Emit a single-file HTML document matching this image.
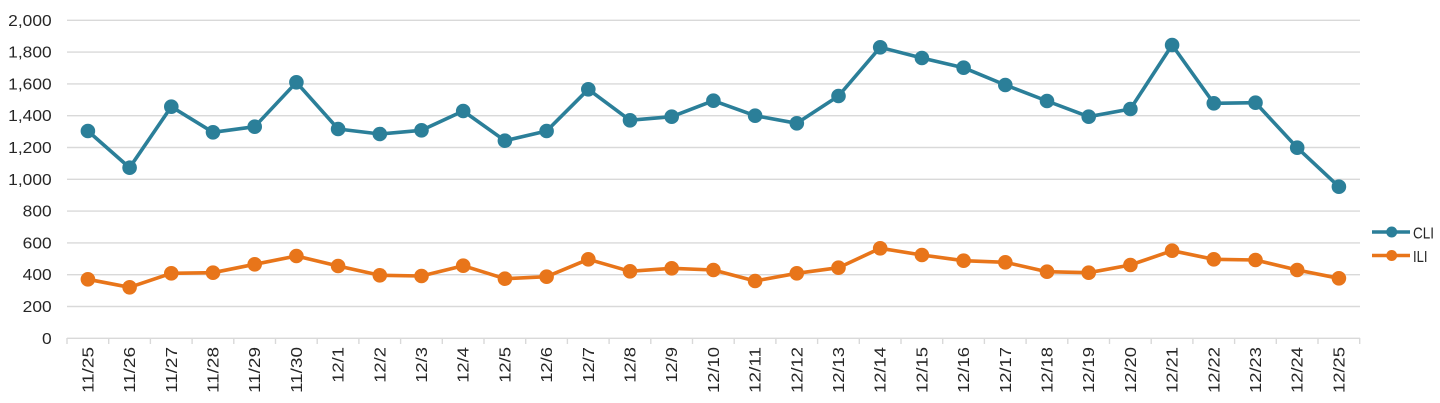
<!DOCTYPE html>
<html><head><meta charset="utf-8"><style>
html,body{margin:0;padding:0;background:#fff;}
svg{display:block;}
text{font-family:"Liberation Sans",Arial,sans-serif;fill:#262626;}
</style></head><body>
<svg width="1440" height="403" viewBox="0 0 1440 403" xmlns="http://www.w3.org/2000/svg">
<g stroke="#d9d9d9" stroke-width="1.4">
<line x1="67" x2="1360" y1="20.3" y2="20.3"/>
<line x1="67" x2="1360" y1="52.1" y2="52.1"/>
<line x1="67" x2="1360" y1="83.9" y2="83.9"/>
<line x1="67" x2="1360" y1="115.7" y2="115.7"/>
<line x1="67" x2="1360" y1="147.5" y2="147.5"/>
<line x1="67" x2="1360" y1="179.3" y2="179.3"/>
<line x1="67" x2="1360" y1="211.1" y2="211.1"/>
<line x1="67" x2="1360" y1="242.9" y2="242.9"/>
<line x1="67" x2="1360" y1="274.7" y2="274.7"/>
<line x1="67" x2="1360" y1="306.5" y2="306.5"/>
<line x1="67" x2="1360" y1="338.3" y2="338.3"/>
</g>
<g stroke="#d9d9d9" stroke-width="1.4">
<line x1="67" x2="67" y1="338" y2="344"/><line x1="108.7" x2="108.7" y1="338" y2="344"/><line x1="150.4" x2="150.4" y1="338" y2="344"/><line x1="192.1" x2="192.1" y1="338" y2="344"/><line x1="233.8" x2="233.8" y1="338" y2="344"/><line x1="275.5" x2="275.5" y1="338" y2="344"/><line x1="317.2" x2="317.2" y1="338" y2="344"/><line x1="358.9" x2="358.9" y1="338" y2="344"/><line x1="400.6" x2="400.6" y1="338" y2="344"/><line x1="442.3" x2="442.3" y1="338" y2="344"/><line x1="484" x2="484" y1="338" y2="344"/><line x1="525.7" x2="525.7" y1="338" y2="344"/><line x1="567.4" x2="567.4" y1="338" y2="344"/><line x1="609.1" x2="609.1" y1="338" y2="344"/><line x1="650.8" x2="650.8" y1="338" y2="344"/><line x1="692.5" x2="692.5" y1="338" y2="344"/><line x1="734.2" x2="734.2" y1="338" y2="344"/><line x1="775.9" x2="775.9" y1="338" y2="344"/><line x1="817.6" x2="817.6" y1="338" y2="344"/><line x1="859.3" x2="859.3" y1="338" y2="344"/><line x1="901" x2="901" y1="338" y2="344"/><line x1="942.7" x2="942.7" y1="338" y2="344"/><line x1="984.4" x2="984.4" y1="338" y2="344"/><line x1="1026.1" x2="1026.1" y1="338" y2="344"/><line x1="1067.8" x2="1067.8" y1="338" y2="344"/><line x1="1109.5" x2="1109.5" y1="338" y2="344"/><line x1="1151.2" x2="1151.2" y1="338" y2="344"/><line x1="1192.9" x2="1192.9" y1="338" y2="344"/><line x1="1234.6" x2="1234.6" y1="338" y2="344"/><line x1="1276.3" x2="1276.3" y1="338" y2="344"/><line x1="1318" x2="1318" y1="338" y2="344"/><line x1="1359.7" x2="1359.7" y1="338" y2="344"/>
</g>
<g font-size="15.5" text-anchor="end">
<text x="51.7" y="25.8" textLength="43.5" lengthAdjust="spacingAndGlyphs">2,000</text>
<text x="51.7" y="57.6" textLength="43.5" lengthAdjust="spacingAndGlyphs">1,800</text>
<text x="51.7" y="89.4" textLength="43.5" lengthAdjust="spacingAndGlyphs">1,600</text>
<text x="51.7" y="121.2" textLength="43.5" lengthAdjust="spacingAndGlyphs">1,400</text>
<text x="51.7" y="153" textLength="43.5" lengthAdjust="spacingAndGlyphs">1,200</text>
<text x="51.7" y="184.8" textLength="43.5" lengthAdjust="spacingAndGlyphs">1,000</text>
<text x="51.7" y="216.6" textLength="29" lengthAdjust="spacingAndGlyphs">800</text>
<text x="51.7" y="248.4" textLength="29" lengthAdjust="spacingAndGlyphs">600</text>
<text x="51.7" y="280.2" textLength="29" lengthAdjust="spacingAndGlyphs">400</text>
<text x="51.7" y="312" textLength="29" lengthAdjust="spacingAndGlyphs">200</text>
<text x="51.7" y="343.8" textLength="9.7" lengthAdjust="spacingAndGlyphs">0</text>
</g>
<g font-size="15.5" text-anchor="end">
<text transform="translate(93.4,347) rotate(-90)" textLength="46" lengthAdjust="spacingAndGlyphs">11/25</text>
<text transform="translate(135.1,347) rotate(-90)" textLength="46" lengthAdjust="spacingAndGlyphs">11/26</text>
<text transform="translate(176.8,347) rotate(-90)" textLength="46" lengthAdjust="spacingAndGlyphs">11/27</text>
<text transform="translate(218.5,347) rotate(-90)" textLength="46" lengthAdjust="spacingAndGlyphs">11/28</text>
<text transform="translate(260.2,347) rotate(-90)" textLength="46" lengthAdjust="spacingAndGlyphs">11/29</text>
<text transform="translate(301.9,347) rotate(-90)" textLength="46" lengthAdjust="spacingAndGlyphs">11/30</text>
<text transform="translate(343.6,347) rotate(-90)" textLength="35.8" lengthAdjust="spacingAndGlyphs">12/1</text>
<text transform="translate(385.3,347) rotate(-90)" textLength="35.8" lengthAdjust="spacingAndGlyphs">12/2</text>
<text transform="translate(427,347) rotate(-90)" textLength="35.8" lengthAdjust="spacingAndGlyphs">12/3</text>
<text transform="translate(468.7,347) rotate(-90)" textLength="35.8" lengthAdjust="spacingAndGlyphs">12/4</text>
<text transform="translate(510.4,347) rotate(-90)" textLength="35.8" lengthAdjust="spacingAndGlyphs">12/5</text>
<text transform="translate(552.1,347) rotate(-90)" textLength="35.8" lengthAdjust="spacingAndGlyphs">12/6</text>
<text transform="translate(593.8,347) rotate(-90)" textLength="35.8" lengthAdjust="spacingAndGlyphs">12/7</text>
<text transform="translate(635.5,347) rotate(-90)" textLength="35.8" lengthAdjust="spacingAndGlyphs">12/8</text>
<text transform="translate(677.2,347) rotate(-90)" textLength="35.8" lengthAdjust="spacingAndGlyphs">12/9</text>
<text transform="translate(718.9,347) rotate(-90)" textLength="46" lengthAdjust="spacingAndGlyphs">12/10</text>
<text transform="translate(760.6,347) rotate(-90)" textLength="46" lengthAdjust="spacingAndGlyphs">12/11</text>
<text transform="translate(802.3,347) rotate(-90)" textLength="46" lengthAdjust="spacingAndGlyphs">12/12</text>
<text transform="translate(844,347) rotate(-90)" textLength="46" lengthAdjust="spacingAndGlyphs">12/13</text>
<text transform="translate(885.7,347) rotate(-90)" textLength="46" lengthAdjust="spacingAndGlyphs">12/14</text>
<text transform="translate(927.4,347) rotate(-90)" textLength="46" lengthAdjust="spacingAndGlyphs">12/15</text>
<text transform="translate(969.1,347) rotate(-90)" textLength="46" lengthAdjust="spacingAndGlyphs">12/16</text>
<text transform="translate(1010.8,347) rotate(-90)" textLength="46" lengthAdjust="spacingAndGlyphs">12/17</text>
<text transform="translate(1052.5,347) rotate(-90)" textLength="46" lengthAdjust="spacingAndGlyphs">12/18</text>
<text transform="translate(1094.2,347) rotate(-90)" textLength="46" lengthAdjust="spacingAndGlyphs">12/19</text>
<text transform="translate(1135.9,347) rotate(-90)" textLength="46" lengthAdjust="spacingAndGlyphs">12/20</text>
<text transform="translate(1177.6,347) rotate(-90)" textLength="46" lengthAdjust="spacingAndGlyphs">12/21</text>
<text transform="translate(1219.3,347) rotate(-90)" textLength="46" lengthAdjust="spacingAndGlyphs">12/22</text>
<text transform="translate(1261,347) rotate(-90)" textLength="46" lengthAdjust="spacingAndGlyphs">12/23</text>
<text transform="translate(1302.7,347) rotate(-90)" textLength="46" lengthAdjust="spacingAndGlyphs">12/24</text>
<text transform="translate(1344.4,347) rotate(-90)" textLength="46" lengthAdjust="spacingAndGlyphs">12/25</text>
</g>
<!-- CLI -->
<polyline fill="none" stroke="#2b7f99" stroke-width="3.6" stroke-linejoin="round" points="87.9,131 129.6,167.7 171.3,106.7 213,132.3 254.7,126.7 296.4,82.3 338.1,129 379.8,134 421.5,130.3 463.2,111 504.9,140.7 546.6,131 588.3,89.3 630,120.3 671.7,116.7 713.4,100.7 755.1,115.7 796.8,123.3 838.5,96 880.2,47.3 921.9,58 963.6,67.7 1005.3,85 1047,101 1088.7,116.7 1130.4,109 1172.1,45 1213.8,103.3 1255.5,102.7 1297.2,147.7 1338.9,186.7"/>
<g fill="#2b7f99">
<circle cx="87.9" cy="131" r="7.3"/><circle cx="129.6" cy="167.7" r="7.3"/><circle cx="171.3" cy="106.7" r="7.3"/><circle cx="213" cy="132.3" r="7.3"/><circle cx="254.7" cy="126.7" r="7.3"/><circle cx="296.4" cy="82.3" r="7.3"/><circle cx="338.1" cy="129" r="7.3"/><circle cx="379.8" cy="134" r="7.3"/><circle cx="421.5" cy="130.3" r="7.3"/><circle cx="463.2" cy="111" r="7.3"/><circle cx="504.9" cy="140.7" r="7.3"/><circle cx="546.6" cy="131" r="7.3"/><circle cx="588.3" cy="89.3" r="7.3"/><circle cx="630" cy="120.3" r="7.3"/><circle cx="671.7" cy="116.7" r="7.3"/><circle cx="713.4" cy="100.7" r="7.3"/><circle cx="755.1" cy="115.7" r="7.3"/><circle cx="796.8" cy="123.3" r="7.3"/><circle cx="838.5" cy="96" r="7.3"/><circle cx="880.2" cy="47.3" r="7.3"/><circle cx="921.9" cy="58" r="7.3"/><circle cx="963.6" cy="67.7" r="7.3"/><circle cx="1005.3" cy="85" r="7.3"/><circle cx="1047" cy="101" r="7.3"/><circle cx="1088.7" cy="116.7" r="7.3"/><circle cx="1130.4" cy="109" r="7.3"/><circle cx="1172.1" cy="45" r="7.3"/><circle cx="1213.8" cy="103.3" r="7.3"/><circle cx="1255.5" cy="102.7" r="7.3"/><circle cx="1297.2" cy="147.7" r="7.3"/><circle cx="1338.9" cy="186.7" r="7.3"/>
</g>
<!-- ILI -->
<polyline fill="none" stroke="#e8751a" stroke-width="3.6" stroke-linejoin="round" points="87.9,279.3 129.6,287.3 171.3,273.3 213,272.7 254.7,264.3 296.4,256 338.1,266 379.8,275.3 421.5,276 463.2,265.7 504.9,278.7 546.6,276.7 588.3,259.3 630,271.3 671.7,268.3 713.4,270 755.1,281 796.8,273.3 838.5,267.7 880.2,248.3 921.9,255 963.6,260.7 1005.3,262.3 1047,271.7 1088.7,272.7 1130.4,265 1172.1,250.7 1213.8,259.3 1255.5,260 1297.2,270 1338.9,278.3"/>
<g fill="#e8751a">
<circle cx="87.9" cy="279.3" r="7.3"/><circle cx="129.6" cy="287.3" r="7.3"/><circle cx="171.3" cy="273.3" r="7.3"/><circle cx="213" cy="272.7" r="7.3"/><circle cx="254.7" cy="264.3" r="7.3"/><circle cx="296.4" cy="256" r="7.3"/><circle cx="338.1" cy="266" r="7.3"/><circle cx="379.8" cy="275.3" r="7.3"/><circle cx="421.5" cy="276" r="7.3"/><circle cx="463.2" cy="265.7" r="7.3"/><circle cx="504.9" cy="278.7" r="7.3"/><circle cx="546.6" cy="276.7" r="7.3"/><circle cx="588.3" cy="259.3" r="7.3"/><circle cx="630" cy="271.3" r="7.3"/><circle cx="671.7" cy="268.3" r="7.3"/><circle cx="713.4" cy="270" r="7.3"/><circle cx="755.1" cy="281" r="7.3"/><circle cx="796.8" cy="273.3" r="7.3"/><circle cx="838.5" cy="267.7" r="7.3"/><circle cx="880.2" cy="248.3" r="7.3"/><circle cx="921.9" cy="255" r="7.3"/><circle cx="963.6" cy="260.7" r="7.3"/><circle cx="1005.3" cy="262.3" r="7.3"/><circle cx="1047" cy="271.7" r="7.3"/><circle cx="1088.7" cy="272.7" r="7.3"/><circle cx="1130.4" cy="265" r="7.3"/><circle cx="1172.1" cy="250.7" r="7.3"/><circle cx="1213.8" cy="259.3" r="7.3"/><circle cx="1255.5" cy="260" r="7.3"/><circle cx="1297.2" cy="270" r="7.3"/><circle cx="1338.9" cy="278.3" r="7.3"/>
</g>
<!-- Legend -->
<line x1="1372" x2="1410" y1="232" y2="232" stroke="#2b7f99" stroke-width="3.4"/>
<circle cx="1391.7" cy="232" r="5.5" fill="#2b7f99"/>
<line x1="1372" x2="1410" y1="255.5" y2="255.5" stroke="#e8751a" stroke-width="3.4"/>
<circle cx="1391.7" cy="255.5" r="5.5" fill="#e8751a"/>
<text x="1413" y="238.5" font-size="16" textLength="21" lengthAdjust="spacingAndGlyphs">CLI</text>
<text x="1413" y="261.8" font-size="16" textLength="14.5" lengthAdjust="spacingAndGlyphs">ILI</text>
</svg>
</body></html>
